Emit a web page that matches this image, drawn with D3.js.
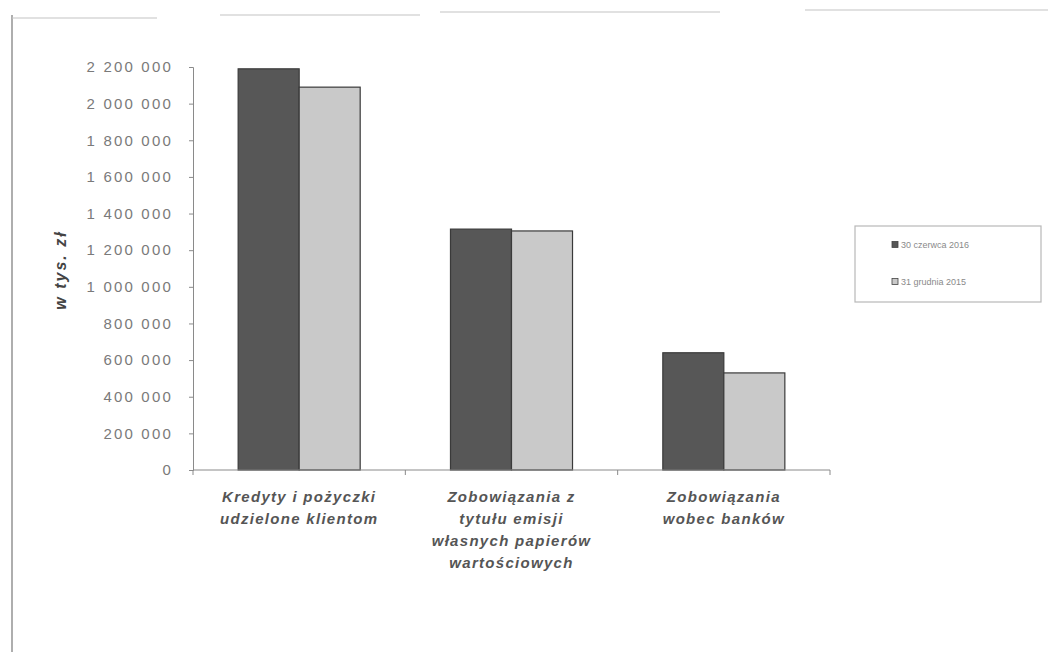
<!DOCTYPE html>
<html>
<head>
<meta charset="utf-8">
<script src="https://cdn.jsdelivr.net/npm/d3@7"></script>
<style>
  html, body { margin: 0; padding: 0; background: #fff; }
  svg { display: block; }
</style>
</head>
<body>
<svg id="chart" width="1048" height="652"></svg>
<script>
// Data: balance sheet items (w tys. zł)
const categories = [
  ["Kredyty i pożyczki", "udzielone klientom"],
  ["Zobowiązania z", "tytułu emisji", "własnych papierów", "wartościowych"],
  ["Zobowiązania", "wobec banków"]
];
const seriesNames = ["30 czerwca 2016", "31 grudnia 2015"];
const valuesJun2016 = [2190000, 1315000, 640000];
const valuesDec2015 = [2090000, 1305000, 530000];
const yTicks = [0, 200000, 400000, 600000, 800000, 1000000, 1200000, 1400000, 1600000, 1800000, 2000000, 2200000];
const seriesColors = ["#575757", "#c9c9c9"];

const svg = d3.select("#chart");
const font = "'Liberation Sans', Arial, sans-serif";

// Page frame fragments
const frame = svg.append("g").attr("stroke", "#c4c4c4").attr("fill", "none");
frame.append("line").attr("x1", 12).attr("x2", 12).attr("y1", 15).attr("y2", 652)
  .attr("stroke", "#9a9a9a").attr("stroke-width", 1.6);
[[12, 157, 18], [220, 420, 15], [440, 720, 12], [805, 1048, 10]].forEach(([a, b, y]) => {
  frame.append("line").attr("x1", a).attr("x2", b).attr("y1", y).attr("y2", y).attr("stroke-width", 1.2);
});

const plot = { left: 193, right: 830, top: 67, bottom: 470 };

const x0 = d3.scaleBand()
  .domain(d3.range(categories.length))
  .range([plot.left, plot.right])
  .padding(0);

const x1 = d3.scaleBand()
  .domain(seriesNames)
  .range([0, x0.bandwidth()])
  .paddingInner(0)
  .paddingOuter(0.74);

const y = d3.scaleLinear()
  .domain([0, 2200000])
  .range([plot.bottom, plot.top]);

const fmt = v => d3.format(",")(v).replace(/,/g, " ");

// Y axis
const yAxis = svg.append("g")
  .attr("transform", `translate(${plot.left},0)`)
  .call(d3.axisLeft(y).tickValues(yTicks).tickFormat(fmt).tickSize(4).tickPadding(16));
yAxis.select(".domain").attr("stroke", "#8a8a8a");
yAxis.selectAll(".tick line").attr("stroke", "#8a8a8a");
yAxis.selectAll(".tick text")
  .attr("font-family", font).attr("font-size", 15).attr("letter-spacing", 2.2)
  .attr("fill", "#7a7a7a");

// Y axis title
svg.append("text")
  .attr("transform", "translate(66,270) rotate(-90)")
  .attr("text-anchor", "middle")
  .attr("font-family", font).attr("font-size", 16)
  .attr("font-weight", "bold").attr("font-style", "italic")
  .attr("letter-spacing", 2)
  .attr("fill", "#444")
  .text("w tys. zł");

// Bars
const rows = categories.map((c, i) => ({ i, vals: [valuesJun2016[i], valuesDec2015[i]] }));
const groups = svg.append("g").selectAll("g").data(rows).join("g")
  .attr("transform", d => `translate(${x0(d.i)},0)`);
groups.selectAll("rect")
  .data(d => d.vals.map((v, k) => ({ key: seriesNames[k], v, k })))
  .join("rect")
  .attr("x", d => x1(d.key))
  .attr("width", x1.bandwidth())
  .attr("y", d => y(d.v))
  .attr("height", d => y(0) - y(d.v))
  .attr("fill", d => seriesColors[d.k])
  .attr("stroke", "#3a3a3a")
  .attr("stroke-width", 1.2);

// X axis
const xAxis = svg.append("g").attr("transform", `translate(0,${plot.bottom})`);
xAxis.append("line").attr("x1", plot.left).attr("x2", plot.right)
  .attr("stroke", "#8a8a8a");
d3.range(categories.length + 1).forEach(k => {
  const xx = plot.left + k * x0.step();
  xAxis.append("line").attr("x1", xx).attr("x2", xx).attr("y1", 0).attr("y2", 5)
    .attr("stroke", "#8a8a8a");
});

// Category labels
const labels = svg.append("g");
categories.forEach((lines, i) => {
  const t = labels.append("text")
    .attr("x", x0(i) + x0.bandwidth() / 2)
    .attr("y", 502)
    .attr("text-anchor", "middle")
    .attr("font-family", font).attr("font-size", 15)
    .attr("font-weight", "bold").attr("font-style", "italic")
    .attr("letter-spacing", 1.3)
    .attr("fill", "#555");
  lines.forEach((ln, j) => {
    t.append("tspan").attr("x", x0(i) + x0.bandwidth() / 2).attr("dy", j === 0 ? 0 : 22).text(ln);
  });
});

// Legend
const legend = svg.append("g");
legend.append("rect")
  .attr("x", 855).attr("y", 226).attr("width", 186).attr("height", 76)
  .attr("fill", "#fff").attr("stroke", "#b8b8b8").attr("stroke-width", 1.2);
seriesNames.forEach((name, k) => {
  const ly = 245 + k * 37;
  legend.append("rect").attr("x", 892).attr("y", ly - 3.5).attr("width", 6).attr("height", 6)
    .attr("fill", seriesColors[k]).attr("stroke", "#444").attr("stroke-width", 0.8);
  legend.append("text").attr("x", 901).attr("y", ly + 3)
    .attr("font-family", font).attr("font-size", 9).attr("fill", "#8a8a8a")
    .text(name);
});
</script>
</body>
</html>
